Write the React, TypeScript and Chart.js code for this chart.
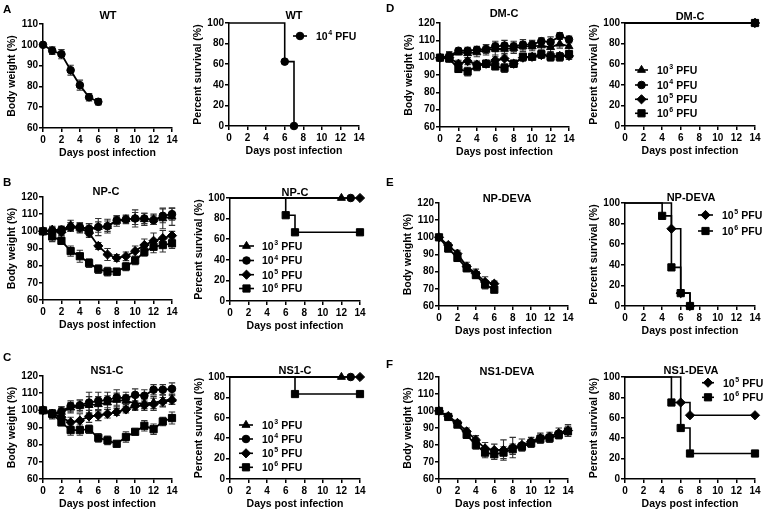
import React, { useEffect, useRef } from 'react';
import { Chart, registerables } from 'chart.js';
Chart.register(...registerables);

const FONT = "'Liberation Sans', Arial, Helvetica, sans-serif";

// ---------------- data ----------------
const DAYS = [0, 1, 2, 3, 4, 5, 6, 7, 8, 9, 10, 11, 12, 13, 14];
const DAYS_TO_6 = [0, 1, 2, 3, 4, 5, 6];
const X_TICKS = [0, 2, 4, 6, 8, 10, 12, 14];
const WEIGHT_TICKS_WT = [60, 70, 80, 90, 100, 110];
const WEIGHT_TICKS = [60, 70, 80, 90, 100, 110, 120];
const SURVIVAL_TICKS = [0, 20, 40, 60, 80, 100];
const DOSE_EXP = ['3', '4', '5', '6'];

// A: WT
const wtWeight = [100, 97.2, 95.5, 87.8, 80.6, 74.8, 72.6];
const wtWeightErr = [0, 1.8, 2.2, 2.4, 2.4, 1.8, 1.5];
const wtSurvDays = [0, 6, 7];
const wtSurv = [100, 62.5, 0];

// B: NP-C
const npc3 = [100, 101, 100.5, 103.5, 102, 101, 102.5, 103, 106, 107, 107.5, 107, 107, 107.5, 108.5];
const npc4 = [100, 100.5, 101, 102.5, 102.5, 101.5, 102.5, 103, 106.5, 107, 107.5, 107.5, 106.5, 109, 110];
const npc5 = [100, 100, 99.5, 102.5, 102, 99, 91.5, 86.5, 84.5, 85.5, 88.5, 92, 94.5, 96, 97.5];
const npc6 = [100, 97, 94.5, 88.5, 85.5, 81.5, 78, 76.5, 76.5, 79.5, 83, 88, 91, 92, 93];
const npc3Err = [0, 2, 2.5, 3, 3, 3.5, 5, 4, 3, 2.5, 5, 3.5, 3, 6, 5];
const npc4Err = [0, 2, 2, 2.5, 2.5, 3, 3, 3, 2.5, 2, 3.5, 3, 2.5, 4, 3.5];
const npc5Err = [0, 2, 2, 2.5, 2.5, 2.5, 2, 3.5, 2, 2.5, 3, 3.5, 4.5, 4.5, 2.5];
const npc6Err = [0, 3, 2, 3, 3.5, 2.5, 2.5, 2.5, 2, 2.5, 2.5, 2.5, 3.5, 4, 3];
const npcS3Days = [0, 12];
const npcS3 = [100, 100];
const npcS4Days = [0, 13];
const npcS4 = [100, 100];
const npcS5Days = [0, 14];
const npcS5 = [100, 100];
const npcS6Days = [0, 6, 7, 14];
const npcS6 = [100, 83.3, 66.7, 66.7];

// C: NS1-C
const ns1c3 = [100, 97.5, 99, 101.5, 102.5, 103, 103.5, 104.5, 106, 105.5, 104, 104, 104.5, 105.5, 106.5];
const ns1c4 = [100, 98, 99.5, 102.5, 103, 104.5, 105.5, 106, 107.5, 107, 109, 108.5, 112, 112, 112.5];
const ns1c5 = [100, 98, 96, 93, 94, 96.5, 97, 98, 99, 100.5, 102.5, 103, 103.5, 105, 106];
const ns1c6 = [100, 98, 93, 88.5, 88.5, 89, 84, 82.5, 80.5, 84.5, 87.5, 91, 89, 93.5, 95.5];
const ns1c3Err = [0, 2.5, 3, 3, 3.5, 5, 4.5, 4, 4, 3.5, 3.5, 3, 3.5, 3.5, 3];
const ns1c4Err = [0, 2.5, 2.5, 3, 3, 6, 5, 4.5, 4.5, 3.5, 3.5, 3.5, 3, 3, 3.5];
const ns1c5Err = [0, 2, 2.5, 3, 4, 3.5, 3, 2.5, 2, 2, 2.5, 3, 3.5, 2.5, 2.5];
const ns1c6Err = [0, 2, 2, 3, 3, 2.5, 2.5, 2.5, 1.5, 3, 1.5, 3, 3, 2.5, 3.5];
const ns1cS3Days = [0, 12];
const ns1cS3 = [100, 100];
const ns1cS4Days = [0, 13];
const ns1cS4 = [100, 100];
const ns1cS5Days = [0, 14];
const ns1cS5 = [100, 100];
const ns1cS6Days = [0, 7, 14];
const ns1cS6 = [100, 83.3, 83.3];

// D: DM-C
const dmc3 = [100, 100.5, 103, 102.5, 103, 104.5, 105, 105, 105.5, 106.5, 106.5, 107, 106, 108, 106.5];
const dmc4 = [100, 101, 104, 104, 104.5, 105, 106.5, 107, 106.5, 107.5, 107.5, 109.5, 109, 112.5, 110.5];
const dmc5 = [100, 100, 96.5, 98, 96, 96.5, 98.5, 99.5, 96.5, 100, 100.5, 101.5, 101, 101, 101];
const dmc6 = [100, 99.5, 93.5, 92, 95, 96.5, 95, 94, 96.5, 100.5, 100.5, 102, 100.5, 100.5, 102];
const dmc3Err = [0, 2.5, 1.5, 2.5, 2.5, 3, 3.5, 3.5, 3, 3, 2.5, 2.5, 3, 2.5, 2.5];
const dmc4Err = [0, 2.5, 1.5, 2, 2, 2.5, 3, 3, 3, 3, 2.5, 2, 3, 2, 2];
const dmc5Err = [0, 2, 2, 2, 2, 2, 2, 3, 2, 2, 1.5, 2, 2.5, 2, 2];
const dmc6Err = [0, 2, 2, 2.5, 2.5, 2, 2, 2.5, 2, 2, 1.5, 2, 2.5, 2.5, 2];
const dmcSDays = [0, 14];
const dmcS = [100, 100];

// E: NP-DEVA
const npd5 = [100, 95.5, 90.5, 83, 79, 74, 73];
const npd6 = [100, 93.5, 88, 82, 78, 72.5, 69.5];
const npd5Err = [0, 1.5, 2, 2.5, 2.5, 3, 1.5];
const npd6Err = [0, 2, 2, 2, 2, 2.5, 1];
const npdS5Days = [0, 5, 6, 7];
const npdS5 = [100, 75, 12.5, 0];
const npdS6Days = [0, 4, 5, 6, 7];
const npdS6 = [100, 87.5, 37.5, 12.5, 0];

// F: NS1-DEVA
const ns1d5 = [100, 97, 93, 88, 83, 78, 77, 77, 78.5, 80, 82, 84, 85, 87, 88.5];
const ns1d6 = [100, 96.5, 92, 86, 80, 75.5, 74.5, 75.5, 77.5, 79, 81, 83.5, 84, 86, 88];
const ns1d5Err = [0, 1, 1.5, 2, 2.5, 3.5, 3.5, 6, 6, 3.5, 2.5, 3, 2.5, 3, 3.5];
const ns1d6Err = [0, 1, 1.5, 2, 2.5, 3, 3, 3.5, 3, 2.5, 2.5, 2.5, 2.5, 2.5, 3];
const ns1dS5Days = [0, 6, 7, 14];
const ns1dS5 = [100, 75, 62.5, 62.5];
const ns1dS6Days = [0, 5, 6, 7, 14];
const ns1dS6 = [100, 75, 50, 25, 25];

// ---------------- styling / layout ----------------
const POINT_STYLE = ['triangle', 'circle', 'rectRot', 'rect'];
const POINT_R = [4.6, 3.8, 4.6, 5.1];
const M_LEFT = 56, M_TOP = 30, M_RIGHT = 14, M_BOTTOM = 36;
const Y_AXIS_W = 37, X_AXIS_H = 31;

type Series = { dose: number; x: number[]; y: number[]; err?: number[] };
type Legend = { doses: number[]; x1: number; x2: number; tx: number; ys: number[] };
type PanelCfg = {
  kind: 'weight' | 'survival';
  plot: [number, number, number, number];
  title: string;
  titlePos: [number, number];
  letter?: string;
  letterPos?: [number, number];
  yTicks: number[];
  series: Series[];
  legend?: Legend;
};

const PANELS: PanelCfg[] = [
  {
    kind: 'weight', plot: [43, 24, 172, 128], title: 'WT', titlePos: [108, 16], letter: 'A', letterPos: [3, 10],
    yTicks: WEIGHT_TICKS_WT, series: [{ dose: 1, x: DAYS_TO_6, y: wtWeight, err: wtWeightErr }],
  },
  {
    kind: 'survival', plot: [229, 23, 359, 126], title: 'WT', titlePos: [294, 16], yTicks: SURVIVAL_TICKS,
    series: [{ dose: 1, x: wtSurvDays, y: wtSurv }],
    legend: { doses: [1], x1: 293, x2: 307, tx: 316, ys: [36] },
  },
  {
    kind: 'weight', plot: [43, 197, 172, 300], title: 'NP-C', titlePos: [106, 192], letter: 'B', letterPos: [3, 183],
    yTicks: WEIGHT_TICKS, series: [
      { dose: 0, x: DAYS, y: npc3, err: npc3Err },
      { dose: 1, x: DAYS, y: npc4, err: npc4Err },
      { dose: 2, x: DAYS, y: npc5, err: npc5Err },
      { dose: 3, x: DAYS, y: npc6, err: npc6Err },
    ],
  },
  {
    kind: 'survival', plot: [230, 198, 360, 301], title: 'NP-C', titlePos: [295, 192.5], yTicks: SURVIVAL_TICKS,
    series: [
      { dose: 0, x: npcS3Days, y: npcS3 },
      { dose: 1, x: npcS4Days, y: npcS4 },
      { dose: 2, x: npcS5Days, y: npcS5 },
      { dose: 3, x: npcS6Days, y: npcS6 },
    ],
    legend: { doses: [0, 1, 2, 3], x1: 239, x2: 254, tx: 262, ys: [246, 260.5, 274.7, 288.5] },
  },
  {
    kind: 'weight', plot: [43, 376, 172, 479], title: 'NS1-C', titlePos: [107, 371], letter: 'C', letterPos: [3, 358],
    yTicks: WEIGHT_TICKS, series: [
      { dose: 0, x: DAYS, y: ns1c3, err: ns1c3Err },
      { dose: 1, x: DAYS, y: ns1c4, err: ns1c4Err },
      { dose: 2, x: DAYS, y: ns1c5, err: ns1c5Err },
      { dose: 3, x: DAYS, y: ns1c6, err: ns1c6Err },
    ],
  },
  {
    kind: 'survival', plot: [230, 377, 360, 479], title: 'NS1-C', titlePos: [295, 371], yTicks: SURVIVAL_TICKS,
    series: [
      { dose: 0, x: ns1cS3Days, y: ns1cS3 },
      { dose: 1, x: ns1cS4Days, y: ns1cS4 },
      { dose: 2, x: ns1cS5Days, y: ns1cS5 },
      { dose: 3, x: ns1cS6Days, y: ns1cS6 },
    ],
    legend: { doses: [0, 1, 2, 3], x1: 239, x2: 253, tx: 262, ys: [425, 439, 453.3, 467.3] },
  },
  {
    kind: 'weight', plot: [440, 23, 569, 127], title: 'DM-C', titlePos: [504, 13.5], letter: 'D', letterPos: [386, 9],
    yTicks: WEIGHT_TICKS, series: [
      { dose: 0, x: DAYS, y: dmc3, err: dmc3Err },
      { dose: 1, x: DAYS, y: dmc4, err: dmc4Err },
      { dose: 2, x: DAYS, y: dmc5, err: dmc5Err },
      { dose: 3, x: DAYS, y: dmc6, err: dmc6Err },
    ],
  },
  {
    kind: 'survival', plot: [625, 23, 755, 126], title: 'DM-C', titlePos: [690, 17], yTicks: SURVIVAL_TICKS,
    series: [
      { dose: 0, x: dmcSDays, y: dmcS },
      { dose: 1, x: dmcSDays, y: dmcS },
      { dose: 2, x: dmcSDays, y: dmcS },
      { dose: 3, x: dmcSDays, y: dmcS },
    ],
    legend: { doses: [0, 1, 2, 3], x1: 635, x2: 648, tx: 657, ys: [70, 85, 99.3, 113.3] },
  },
  {
    kind: 'weight', plot: [439, 203, 568, 306], title: 'NP-DEVA', titlePos: [507, 199], letter: 'E', letterPos: [386, 183],
    yTicks: WEIGHT_TICKS, series: [
      { dose: 2, x: DAYS_TO_6, y: npd5, err: npd5Err },
      { dose: 3, x: DAYS_TO_6, y: npd6, err: npd6Err },
    ],
  },
  {
    kind: 'survival', plot: [625, 203, 755, 306], title: 'NP-DEVA', titlePos: [691, 197.5], yTicks: SURVIVAL_TICKS,
    series: [
      { dose: 2, x: npdS5Days, y: npdS5 },
      { dose: 3, x: npdS6Days, y: npdS6 },
    ],
    legend: { doses: [2, 3], x1: 698, x2: 713, tx: 722, ys: [215, 231] },
  },
  {
    kind: 'weight', plot: [439, 377, 568, 479], title: 'NS1-DEVA', titlePos: [507, 372], letter: 'F', letterPos: [386, 365],
    yTicks: WEIGHT_TICKS, series: [
      { dose: 2, x: DAYS, y: ns1d5, err: ns1d5Err },
      { dose: 3, x: DAYS, y: ns1d6, err: ns1d6Err },
    ],
  },
  {
    kind: 'survival', plot: [625, 377, 755, 479], title: 'NS1-DEVA', titlePos: [691, 371], yTicks: SURVIVAL_TICKS,
    series: [
      { dose: 2, x: ns1dS5Days, y: ns1dS5 },
      { dose: 3, x: ns1dS6Days, y: ns1dS6 },
    ],
    legend: { doses: [2, 3], x1: 702, x2: 714, tx: 723, ys: [382.7, 397.3] },
  },
];

// ---------------- drawing helpers ----------------
function drawMarker(ctx: CanvasRenderingContext2D, style: string, x: number, y: number, r: number) {
  ctx.beginPath();
  if (style === 'circle') {
    ctx.arc(x, y, r, 0, Math.PI * 2);
  } else if (style === 'rect') {
    const s = r * Math.SQRT1_2;
    ctx.rect(x - s, y - s, 2 * s, 2 * s);
  } else if (style === 'rectRot') {
    ctx.moveTo(x - r, y); ctx.lineTo(x, y - r); ctx.lineTo(x + r, y); ctx.lineTo(x, y + r); ctx.closePath();
  } else {
    let a = 0;
    ctx.moveTo(x + Math.sin(a) * r, y - Math.cos(a) * r);
    a += (2 * Math.PI) / 3;
    ctx.lineTo(x + Math.sin(a) * r, y - Math.cos(a) * r);
    a += (2 * Math.PI) / 3;
    ctx.lineTo(x + Math.sin(a) * r, y - Math.cos(a) * r);
    ctx.closePath();
  }
  ctx.fill();
  ctx.stroke();
}

function drawPfu(ctx: CanvasRenderingContext2D, x: number, cy: number, exp: string) {
  const base = cy + 3.8;
  ctx.textAlign = 'left';
  ctx.textBaseline = 'alphabetic';
  ctx.font = `bold 10.5px ${FONT}`;
  ctx.fillText('10', x, base);
  const w1 = ctx.measureText('10').width;
  ctx.font = `bold 7px ${FONT}`;
  ctx.fillText(exp, x + w1 + 0.5, base - 4.8);
  const w2 = ctx.measureText(exp).width;
  ctx.font = `bold 10.5px ${FONT}`;
  ctx.fillText(' PFU', x + w1 + w2 + 0.8, base);
}

function buildConfig(p: PanelCfg): any {
  const [pl, pt] = p.plot;
  const cl = pl - M_LEFT;
  const ct = pt - M_TOP;
  const isW = p.kind === 'weight';

  const datasets = p.series.map((s) => ({
    data: s.x.map((x, i) => ({ x, y: s.y[i] })),
    errors: s.err,
    borderColor: '#000',
    backgroundColor: '#000',
    borderWidth: isW ? 1.8 : 1.6,
    pointStyle: POINT_STYLE[s.dose],
    pointRadius: s.x.map((_, i) => (isW || i > 0 ? POINT_R[s.dose] : 0)),
    pointHoverRadius: 0,
    pointBorderWidth: 1,
    pointBackgroundColor: '#000',
    pointBorderColor: '#000',
    stepped: isW ? false : 'before',
    tension: 0,
    fill: false,
    clip: false,
  }));

  const errorBars = {
    id: 'errorBars',
    beforeDatasetsDraw(chart: any) {
      const ctx = chart.ctx;
      const xs = chart.scales.x;
      const ys = chart.scales.y;
      chart.data.datasets.forEach((ds: any) => {
        if (!ds.errors) return;
        ctx.save();
        ctx.strokeStyle = '#333';
        ctx.lineWidth = 1.1;
        ds.data.forEach((pt: any, i: number) => {
          const e = ds.errors[i];
          if (!e) return;
          const x = xs.getPixelForValue(pt.x);
          const y1 = ys.getPixelForValue(pt.y + e);
          const y2 = ys.getPixelForValue(pt.y - e);
          ctx.beginPath();
          ctx.moveTo(x, y1); ctx.lineTo(x, y2);
          ctx.moveTo(x - 3.2, y1); ctx.lineTo(x + 3.2, y1);
          ctx.moveTo(x - 3.2, y2); ctx.lineTo(x + 3.2, y2);
          ctx.stroke();
        });
        ctx.restore();
      });
    },
  };

  const decor = {
    id: 'decor',
    afterDraw(chart: any) {
      const ctx = chart.ctx;
      ctx.save();
      ctx.fillStyle = '#000';
      ctx.strokeStyle = '#000';
      ctx.font = `bold 11px ${FONT}`;
      ctx.textAlign = 'center';
      ctx.textBaseline = 'middle';
      ctx.fillText(p.title, p.titlePos[0] - cl, p.titlePos[1] - ct);
      if (p.letter && p.letterPos) {
        ctx.font = `bold 11.5px ${FONT}`;
        ctx.textAlign = 'left';
        ctx.fillText(p.letter, p.letterPos[0] - cl, p.letterPos[1] - ct);
      }
      if (p.legend) {
        const lg = p.legend;
        lg.doses.forEach((d, i) => {
          const y = lg.ys[i] - ct;
          ctx.lineWidth = 1.6;
          ctx.beginPath();
          ctx.moveTo(lg.x1 - cl, y);
          ctx.lineTo(lg.x2 - cl, y);
          ctx.stroke();
          ctx.lineWidth = 1;
          drawMarker(ctx, POINT_STYLE[d], (lg.x1 + lg.x2) / 2 - cl, y, POINT_R[d]);
          drawPfu(ctx, lg.tx - cl, y, DOSE_EXP[d]);
        });
      }
      ctx.restore();
    },
  };

  const tickFont = { family: FONT, size: 10, weight: 'bold' };
  const titleFont = { family: FONT, size: 10.5, weight: 'bold' };
  const gridOpts = { display: true, drawOnChartArea: false, drawTicks: true, tickLength: 4, color: '#000', lineWidth: 1.5 };
  const borderOpts = { display: true, color: '#000', width: 1.5 };

  return {
    type: 'line',
    data: { datasets },
    plugins: [errorBars, decor],
    options: {
      animation: false,
      responsive: false,
      devicePixelRatio: 1,
      events: [],
      layout: { padding: { left: M_LEFT - Y_AXIS_W, top: M_TOP, right: M_RIGHT, bottom: M_BOTTOM - X_AXIS_H } },
      plugins: { legend: { display: false }, title: { display: false }, tooltip: { enabled: false } },
      scales: {
        x: {
          type: 'linear',
          min: 0,
          max: 14,
          afterBuildTicks: (s: any) => { s.ticks = X_TICKS.map((v) => ({ value: v })); },
          afterFit: (s: any) => { s.height = X_AXIS_H; },
          grid: gridOpts,
          border: borderOpts,
          ticks: { color: '#000', font: tickFont, padding: 2, maxRotation: 0, autoSkip: false },
          title: { display: true, text: 'Days post infection', color: '#000', font: titleFont, padding: { top: 0, bottom: 0 } },
        },
        y: {
          type: 'linear',
          min: p.yTicks[0],
          max: p.yTicks[p.yTicks.length - 1],
          afterBuildTicks: (s: any) => { s.ticks = p.yTicks.map((v) => ({ value: v })); },
          afterFit: (s: any) => { s.width = Y_AXIS_W; },
          grid: gridOpts,
          border: borderOpts,
          ticks: { color: '#000', font: tickFont, padding: 1, autoSkip: false },
          title: {
            display: true,
            text: isW ? 'Body weight (%)' : 'Percent survival (%)',
            color: '#000',
            font: titleFont,
            padding: { top: 0, bottom: 0 },
          },
        },
      },
    },
  };
}

function Panel({ cfg }: { cfg: PanelCfg }) {
  const ref = useRef<HTMLCanvasElement>(null);
  const [pl, pt, pr, pb] = cfg.plot;
  const left = pl - M_LEFT;
  const top = pt - M_TOP;
  const w = pr - pl + M_LEFT + M_RIGHT;
  const h = pb - pt + M_TOP + M_BOTTOM;
  useEffect(() => {
    const chart = new Chart(ref.current as HTMLCanvasElement, buildConfig(cfg));
    return () => chart.destroy();
  }, []);
  return (
    <canvas
      ref={ref}
      width={w}
      height={h}
      style={{ position: 'absolute', left, top, width: w, height: h }}
    />
  );
}

export default function App() {
  return (
    <div style={{ position: 'absolute', left: 0, top: 0, width: 766, height: 514, background: '#fff', overflow: 'hidden' }}>
      {PANELS.map((p, i) => (
        <Panel key={i} cfg={p} />
      ))}
    </div>
  );
}
